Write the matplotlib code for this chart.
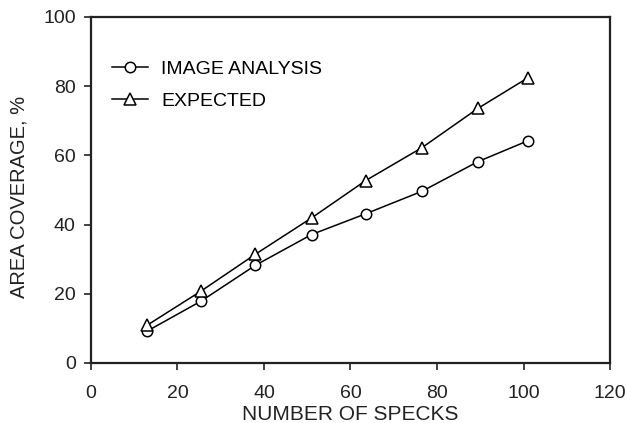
import matplotlib.pyplot as plt

plt.rcParams['font.family'] = ['Liberation Sans', 'DejaVu Sans']

# данные
specks = [13, 25.5, 38, 51, 63.5, 76.5, 89.5, 101]
image_analysis = [9.2, 17.9, 28.2, 37.1, 43.1, 49.6, 58.2, 64.2]
expected = [10.9, 20.8, 31.4, 41.9, 52.7, 62.2, 73.6, 82.4]

fig = plt.figure(figsize=(6.27, 4.23), dpi=100)
ax = fig.add_axes([0.145, 0.142, 0.828, 0.818])

ax.plot(specks, image_analysis, color='black', lw=1.1, marker='o',
        markersize=7.5, markerfacecolor='white', markeredgewidth=1.1,
        label='IMAGE ANALYSIS')
ax.plot(specks, expected, color='black', lw=1.1, marker='^',
        markersize=8, markerfacecolor='white', markeredgewidth=1.1,
        label='EXPECTED')

ax.set_xlim(0, 120)
ax.set_ylim(0, 100)
ax.set_xticks(range(0, 121, 20))
ax.set_yticks(range(0, 101, 20))
ax.tick_params(direction='out', length=5, width=1.2, labelsize=14,
               colors='#222222')
ax.tick_params(axis='x', pad=11)
ax.tick_params(axis='y', pad=6)
for s in ax.spines.values():
    s.set_linewidth(1.6)
    s.set_color('#222222')

ax.set_xlabel('NUMBER OF SPECKS', fontsize=15, color='#222222', labelpad=2)
ax.set_ylabel('AREA COVERAGE, %', fontsize=14.5, color='#222222')
ax.yaxis.set_label_coords(-0.12, 0.48)

ax.legend(loc='upper left', frameon=False, fontsize=14, handlelength=1.85,
          handletextpad=0.7, labelspacing=0.75, borderaxespad=0,
          bbox_to_anchor=(0.025, 0.897))

fig.savefig('out.png', dpi=100)
